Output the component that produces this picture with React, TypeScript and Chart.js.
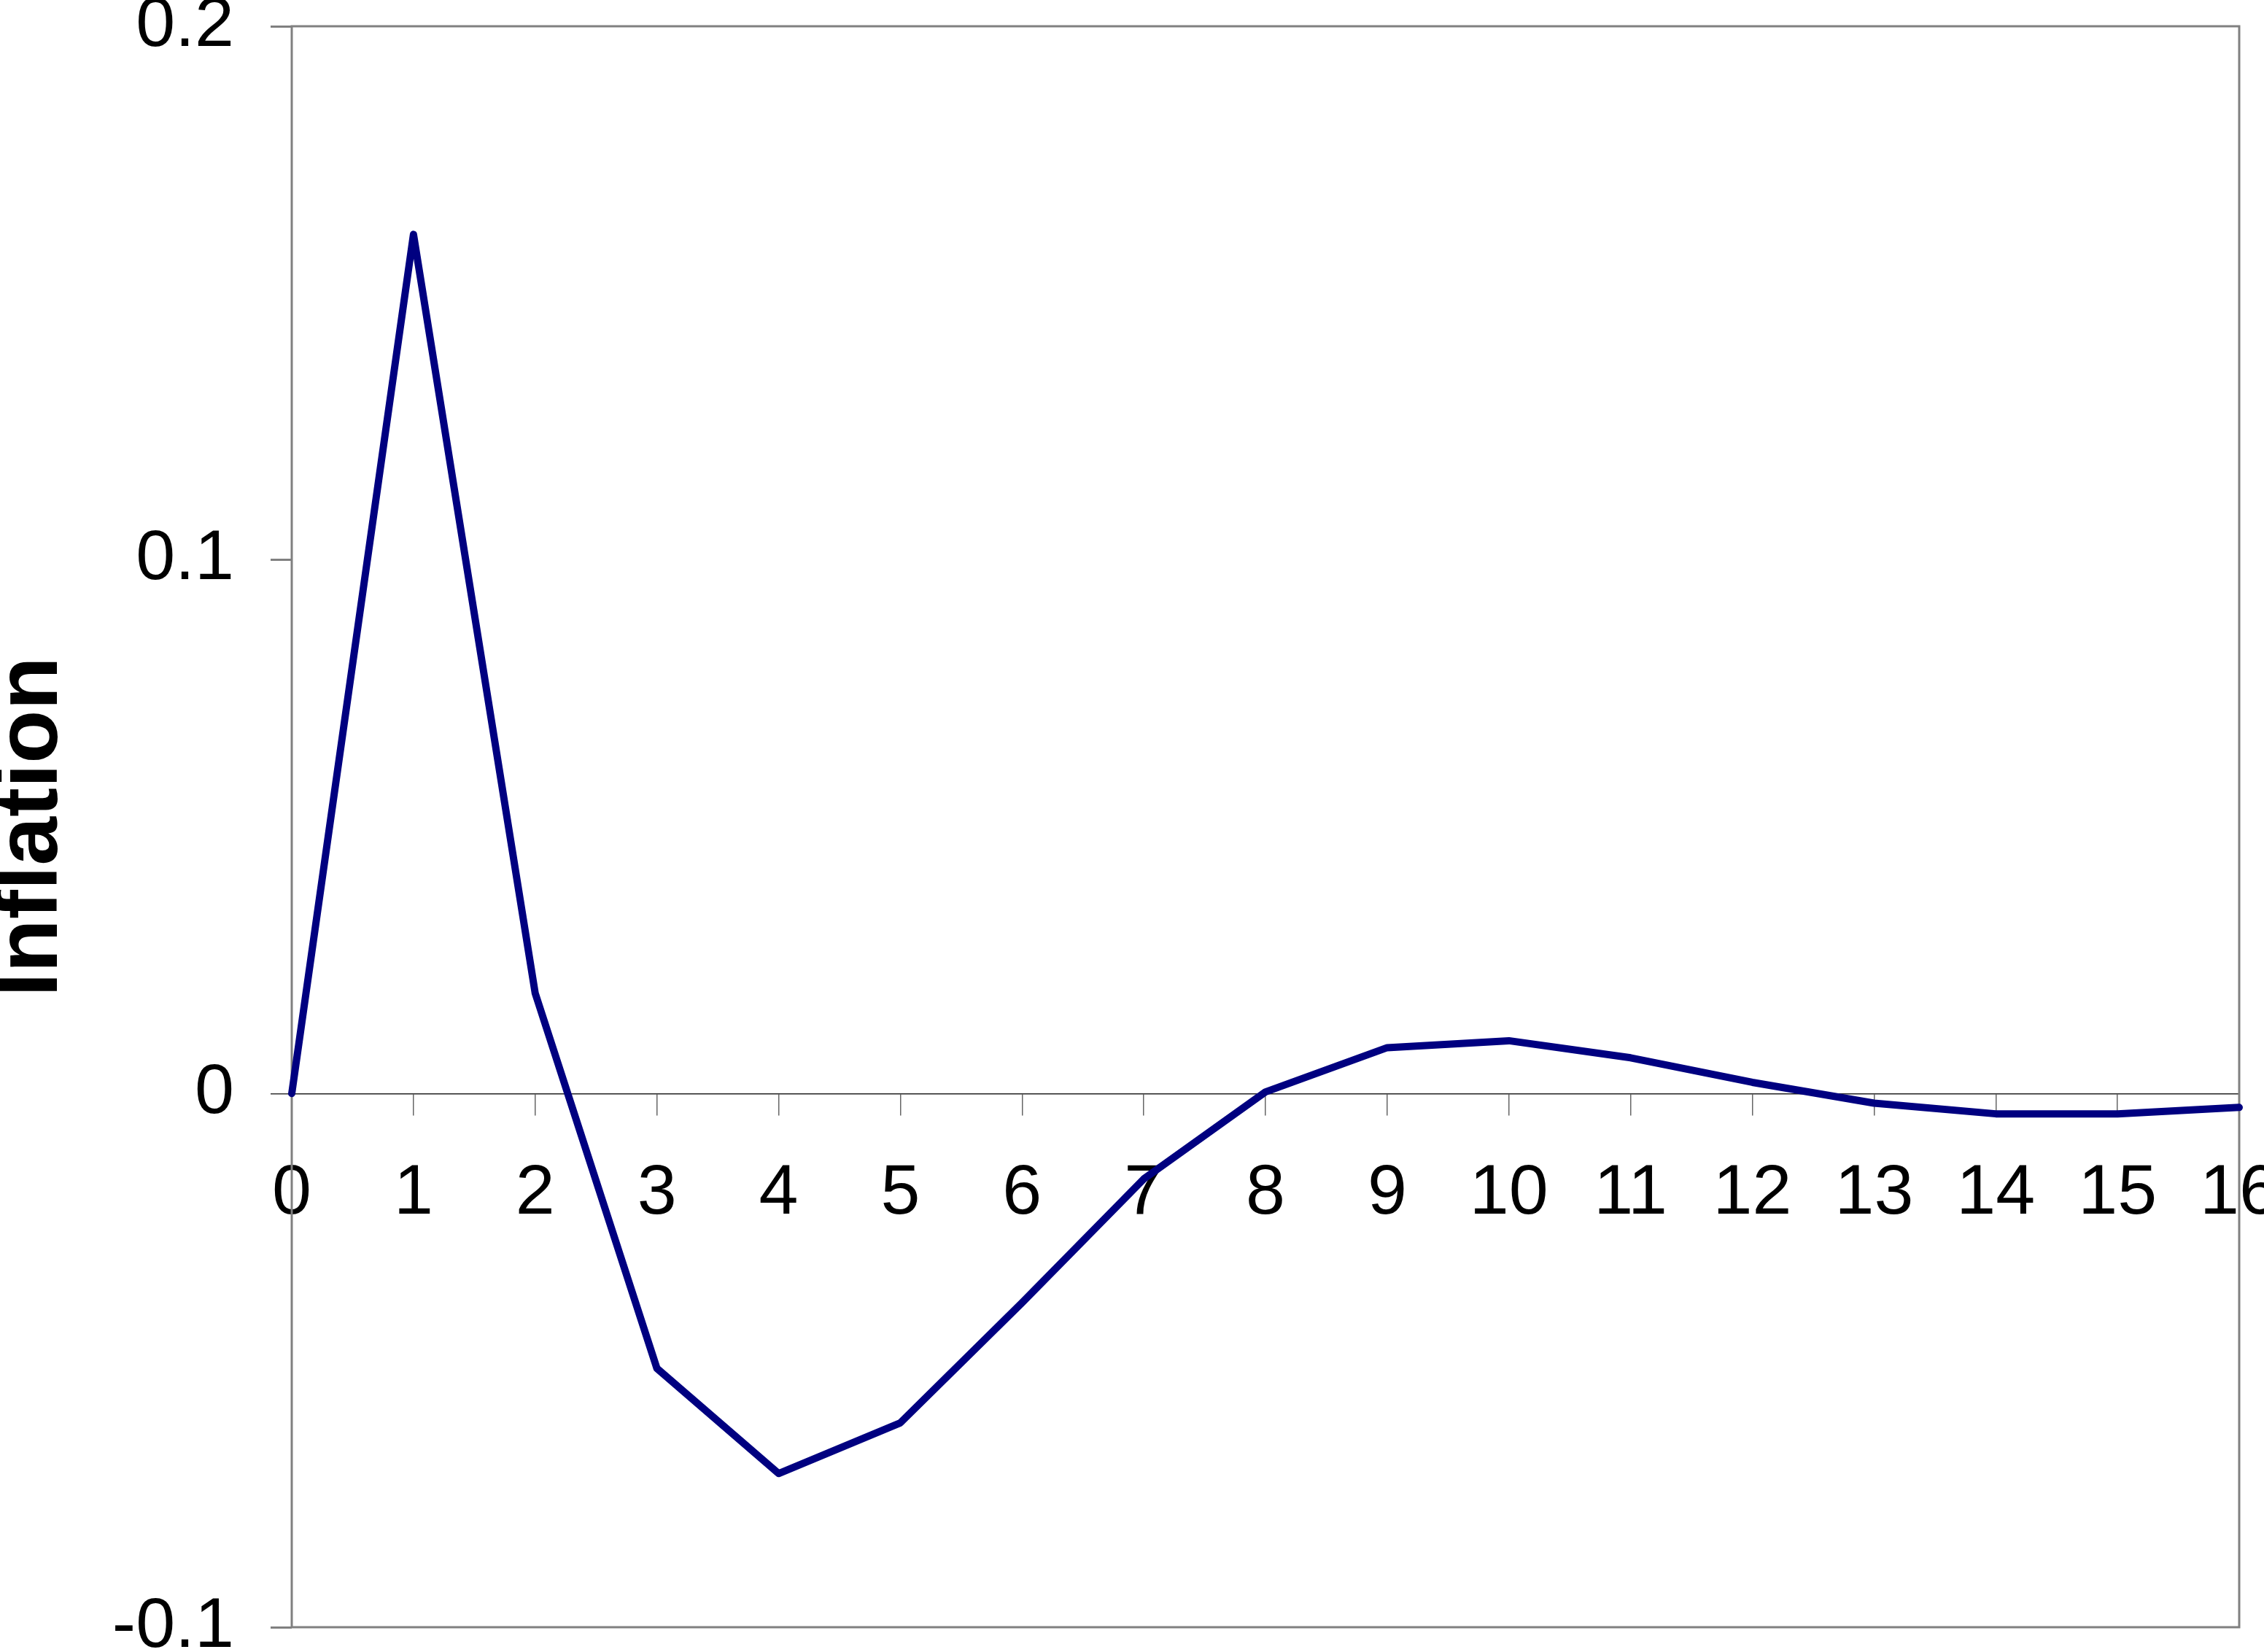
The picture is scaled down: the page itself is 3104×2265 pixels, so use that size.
import React, { useEffect, useRef } from 'react';
import { Chart, registerables } from 'chart.js';

Chart.register(...registerables);

const periods = ['0', '1', '2', '3', '4', '5', '6', '7', '8', '9', '10', '11', '12', '13', '14', '15', '16'];
const inflation = [0, 0.161, 0.0188, -0.0515, -0.0712, -0.0617, -0.0392, -0.016, 0.0003, 0.0086, 0.0099, 0.0067, 0.0021, -0.0018, -0.0038, -0.0038, -0.0026];
const yTickValues = [-0.1, 0, 0.1, 0.2];
const yTickLabels = ['-0.1', '0', '0.1', '0.2'];
const yAxisTitle = 'Inflation';

const FONT = '"Liberation Sans", Arial, Helvetica, sans-serif';

export default function App() {
  const ref = useRef<HTMLCanvasElement | null>(null);

  useEffect(() => {
    if (!ref.current) return;
    const frame = {
      id: 'frame',
      beforeDatasetsDraw(chart: any) {
        const { ctx, chartArea: a } = chart;
        ctx.save();
        ctx.strokeStyle = '#808080';
        ctx.lineWidth = 3;
        ctx.strokeRect(a.left, a.top, a.right - a.left, a.bottom - a.top);
        ctx.restore();
      },
    };
    const chart = new Chart(ref.current, {
      type: 'line',
      data: {
        labels: periods,
        datasets: [
          {
            data: inflation,
            borderColor: '#000080',
            backgroundColor: '#000080',
            borderWidth: 10,
            pointRadius: 0,
            pointHoverRadius: 0,
            borderCapStyle: 'round',
            borderJoinStyle: 'round',
            tension: 0,
            clip: false as any,
          },
        ],
      },
      options: {
        animation: false,
        responsive: false,
        devicePixelRatio: 1,
        layout: { padding: { left: 0, top: 36, right: 34, bottom: 34 } },
        plugins: { legend: { display: false }, tooltip: { enabled: false } },
        scales: {
          x: {
            type: 'category',
            position: { y: 0 } as any,
            offset: false,
            grid: {
              drawOnChartArea: false,
              drawTicks: true,
              tickLength: 29,
              color: '#666666',
              lineWidth: 1.5,
            },
            border: { display: true, color: '#222222', width: 1.5 },
            ticks: {
              autoSkip: false,
              maxRotation: 0,
              minRotation: 0,
              padding: 51,
              color: '#000000',
              font: { family: FONT, size: 97 },
            },
            afterFit(s: any) {
              s.paddingLeft = 0;
              s.paddingRight = 0;
              s.paddingTop = 0;
              s.paddingBottom = 0;
            },
          },
          y: {
            type: 'linear',
            min: -0.1,
            max: 0.2,
            afterBuildTicks(s: any) {
              s.ticks = yTickValues.map((v) => ({ value: v }));
            },
            grid: {
              drawOnChartArea: false,
              drawTicks: true,
              tickLength: 29,
              color: (c: any) => (c.tick && Math.abs(c.tick.value) < 1e-9 ? '#333333' : '#808080'),
              lineWidth: (c: any) => (c.tick && Math.abs(c.tick.value) < 1e-9 ? 1.5 : 3),
            },
            border: { display: false },
            ticks: {
              padding: 50,
              color: '#000000',
              font: { family: FONT, size: 97, lineHeight: 0.6 },
              callback: (value: any) => {
                const i = yTickValues.findIndex((v) => Math.abs(v - Number(value)) < 1e-9);
                return i >= 0 ? yTickLabels[i] : '';
              },
            },
            title: {
              display: true,
              text: yAxisTitle,
              color: '#000000',
              padding: 0,
              font: { family: FONT, size: 120, weight: 'bold', lineHeight: 0.75 },
            },
            afterFit(s: any) {
              s.width = 400;
              s.paddingTop = 0;
              s.paddingBottom = 0;
            },
          },
        },
      },
      plugins: [frame],
    } as any);
    return () => chart.destroy();
  }, []);

  return (
    <div style={{ position: 'absolute', left: 0, top: 0, width: 3104, height: 2265, background: '#ffffff' }}>
      <canvas ref={ref} width={3104} height={2265} style={{ display: 'block', width: 3104, height: 2265 }} />
    </div>
  );
}
